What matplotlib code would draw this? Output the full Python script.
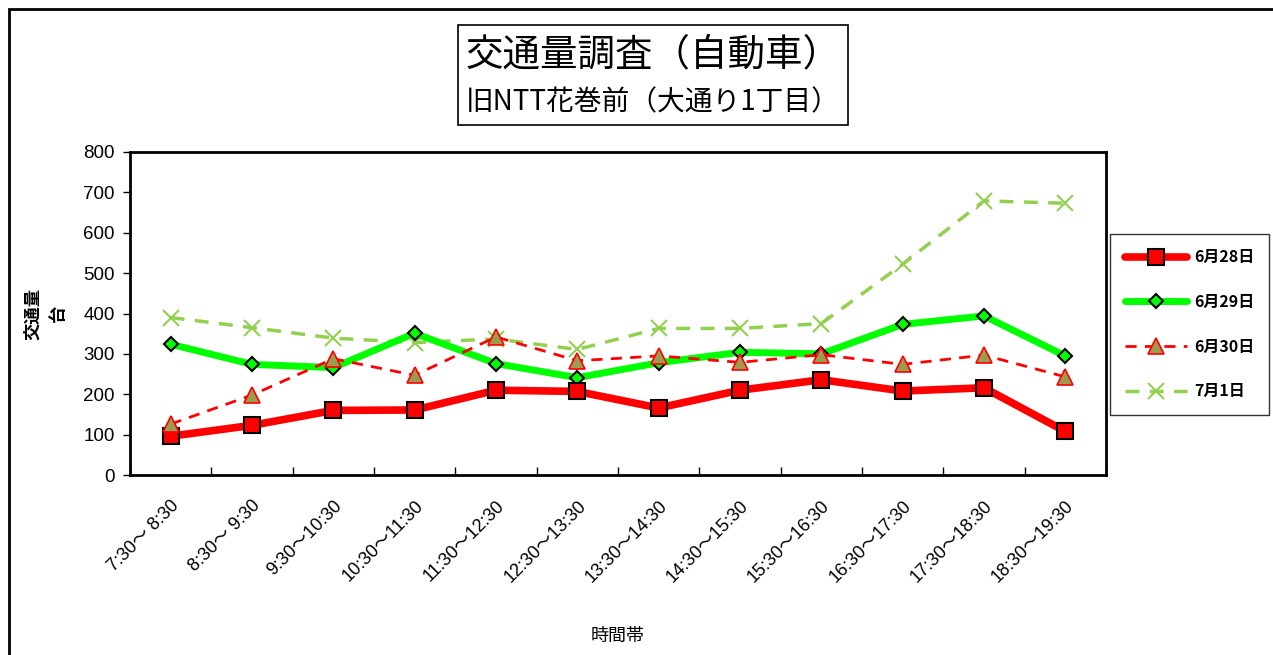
import matplotlib
matplotlib.use("Agg")
import matplotlib.pyplot as plt
from matplotlib.patches import Rectangle
import numpy as np

plt.rcParams['font.family'] = ['Noto Sans CJK JP', 'DejaVu Sans']

categories = ["7:30～ 8:30", "8:30～ 9:30", "9:30～10:30", "10:30～11:30",
              "11:30～12:30", "12:30～13:30", "13:30～14:30", "14:30～15:30",
              "15:30～16:30", "16:30～17:30", "17:30～18:30", "18:30～19:30"]
jun28 = [96, 123, 160, 161, 210, 207, 166, 210, 236, 208, 216, 108]
jun29 = [324, 274, 266, 351, 276, 241, 278, 304, 300, 373, 394, 295]
jun30 = [126, 198, 288, 247, 342, 283, 295, 279, 298, 274, 297, 243]
jul1 = [390, 365, 339, 328, 337, 311, 363, 363, 375, 522, 679, 673]
series_names = ["6月28日", "6月29日", "6月30日", "7月1日"]
yticks = [0, 100, 200, 300, 400, 500, 600, 700, 800]

latin = ['Liberation Sans', 'Noto Sans CJK JP', 'DejaVu Sans']

fig = plt.figure(figsize=(12.73, 6.55), dpi=100)
ax = fig.add_axes([130/1273, (655-475)/655, (1106-130)/1273, (475-152)/655])

x = np.arange(len(categories))
ax.plot(x, jun28, color='#ff0000', lw=5.5, marker='s', ms=11, mfc='#ff0000',
        mec='black', mew=1.5, label=series_names[0], solid_capstyle='round', zorder=4)
ax.plot(x, jun29, color='#00ff00', lw=5, marker='D', ms=7.5, mfc='#00ff00',
        mec='black', mew=1.5, label=series_names[1], solid_capstyle='round', zorder=3)
ax.plot(x, jun30, color='#ff0000', lw=2, ls=(0, (4, 3)), marker='^', ms=11,
        mfc='#9c9c50', mec='#ff0000', mew=1.2, label=series_names[2], zorder=5)
ax.plot(x, jul1, color='#92d050', lw=2.5, ls=(0, (4, 3)), marker='x', ms=11,
        mec='#92d050', mew=1.5, label=series_names[3], zorder=2)

ax.set_xlim(-0.5, len(categories) - 0.5)
ax.set_ylim(0, 800)
ax.set_yticks(yticks)
ax.set_yticklabels([str(v) for v in yticks], fontsize=13.5, family=latin)
ax.tick_params(axis='y', direction='out', length=5, width=1, pad=6)

ax.set_xticks(np.arange(len(categories) + 1) - 0.5)
ax.set_xticklabels([])
ax.tick_params(axis='x', which='major', direction='in', length=6, width=1)
ax.set_xticks(x, minor=True)
ax.set_xticklabels(categories, minor=True, rotation=45, ha='right', va='top',
                   rotation_mode='anchor', fontsize=13, family=latin)
ax.tick_params(axis='x', which='minor', length=0, pad=16)

for s in ax.spines.values():
    s.set_linewidth(2)
    s.set_color('black')

ax.set_xlabel("時間帯", fontsize=13, labelpad=30)
ax.set_ylabel("交通量\n台", fontsize=12.5, fontweight='bold', labelpad=12, linespacing=1.45)

leg = ax.legend(loc='upper left', bbox_to_anchor=(1110/1273, (655-234)/655),
                bbox_transform=fig.transFigure, fontsize=11.5, frameon=True,
                fancybox=False, edgecolor='black', handlelength=3.9,
                labelspacing=1.8, borderpad=0.95, handletextpad=0.4,
                borderaxespad=0)
leg.get_frame().set_linewidth(1)
for t in leg.get_texts():
    t.set_fontweight('bold')

# outer frame
fig.patches.append(Rectangle((9/1273, -0.05), 1.2, 1 - 9/655 + 0.05,
                             transform=fig.transFigure, fill=False,
                             edgecolor='black', lw=2))

# title box
fig.patches.append(Rectangle((458/1273, (655-125)/655), (848-458)/1273, 100/655,
                             transform=fig.transFigure, fill=False,
                             edgecolor='black', lw=1.2))
fig.text(653/1273, (655-55)/655, "交通量調査（自動車）", fontsize=27,
         ha='center', va='center')
fig.text(653/1273, (655-102)/655, "旧NTT花巻前（大通り1丁目）", fontsize=20,
         ha='center', va='center')

fig.savefig("out.png", dpi=100)
